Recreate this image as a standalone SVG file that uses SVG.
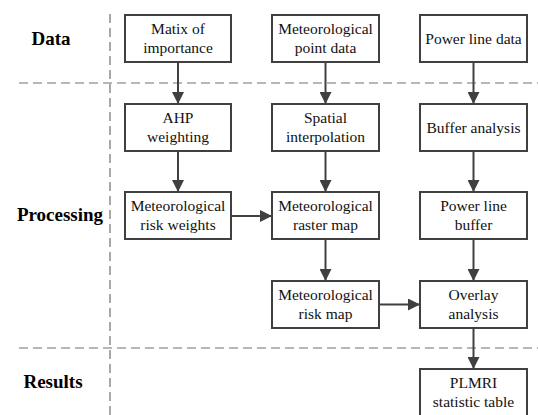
<svg xmlns="http://www.w3.org/2000/svg" width="538" height="415" viewBox="0 0 538 415">
<defs>
<marker id="ah" viewBox="0 0 12 12" refX="12" refY="6" markerWidth="12" markerHeight="12" markerUnits="userSpaceOnUse" orient="auto">
<path d="M0,0 L12,6 L0,12 Z" fill="#404040"/>
</marker>
<style>
.box{fill:#fff;stroke:#404040;stroke-width:2}
.t{font-family:"Liberation Serif","Times New Roman",serif;font-size:15.5px;fill:#111;text-anchor:middle}
.lab{font-family:"Liberation Serif","Times New Roman",serif;font-size:19px;font-weight:bold;fill:#000;text-anchor:middle}
.dash{stroke:#707070;stroke-width:1.2;stroke-dasharray:9,5;fill:none}
.c{stroke:#404040;stroke-width:2;fill:none;marker-end:url(#ah)}
</style>
</defs>
<rect width="538" height="415" fill="#fff"/>
<g id="lanes">
<line class="dash" x1="110" y1="14" x2="110" y2="415"/>
<line class="dash" x1="19" y1="83" x2="538" y2="83"/>
<line class="dash" x1="19" y1="348" x2="538" y2="348"/>
<text class="lab" x="51" y="45">Data</text>
<text class="lab" x="60" y="221">Processing</text>
<text class="lab" x="53" y="388">Results</text>
</g>
<g id="connectors">
<line class="c" x1="178" y1="62" x2="178" y2="104"/>
<line class="c" x1="178" y1="151" x2="178" y2="192"/>
<line class="c" x1="325.5" y1="62" x2="325.5" y2="104"/>
<line class="c" x1="325.5" y1="151" x2="325.5" y2="192"/>
<line class="c" x1="473.5" y1="62" x2="473.5" y2="104"/>
<line class="c" x1="473.5" y1="151" x2="473.5" y2="192"/>
<line class="c" x1="231" y1="216" x2="272" y2="216"/>
<line class="c" x1="325.5" y1="239" x2="325.5" y2="281"/>
<line class="c" x1="473.5" y1="239" x2="473.5" y2="281"/>
<line class="c" x1="379" y1="304.5" x2="420" y2="304.5"/>
<line class="c" x1="473.5" y1="328" x2="473.5" y2="369"/>
</g>
<g id="matrix">
<rect class="box" x="125" y="15" width="106" height="47"/>
<text class="t" x="178" y="34">Matix of</text>
<text class="t" x="178" y="53">importance</text>
</g>
<g id="metpoint">
<rect class="box" x="272" y="15" width="107" height="47"/>
<text class="t" x="325.5" y="34">Meteorological</text>
<text class="t" x="325.5" y="53">point data</text>
</g>
<g id="powerdata">
<rect class="box" x="420" y="15" width="107" height="47"/>
<text class="t" x="473.5" y="44">Power line data</text>
</g>
<g id="ahp">
<rect class="box" x="125" y="104" width="106" height="47"/>
<text class="t" x="178" y="123">AHP</text>
<text class="t" x="178" y="142">weighting</text>
</g>
<g id="spatial">
<rect class="box" x="272" y="104" width="107" height="47"/>
<text class="t" x="325.5" y="123">Spatial</text>
<text class="t" x="325.5" y="142">interpolation</text>
</g>
<g id="buffer">
<rect class="box" x="420" y="104" width="107" height="47"/>
<text class="t" x="473.5" y="133">Buffer analysis</text>
</g>
<g id="weights">
<rect class="box" x="125" y="192" width="106" height="47"/>
<text class="t" x="178" y="211">Meteorological</text>
<text class="t" x="178" y="230">risk weights</text>
</g>
<g id="raster">
<rect class="box" x="272" y="192" width="107" height="47"/>
<text class="t" x="325.5" y="211">Meteorological</text>
<text class="t" x="325.5" y="230">raster map</text>
</g>
<g id="plbuffer">
<rect class="box" x="420" y="192" width="107" height="47"/>
<text class="t" x="473.5" y="211">Power line</text>
<text class="t" x="473.5" y="230">buffer</text>
</g>
<g id="riskmap">
<rect class="box" x="272" y="281" width="107" height="47"/>
<text class="t" x="325.5" y="300">Meteorological</text>
<text class="t" x="325.5" y="319">risk map</text>
</g>
<g id="overlay">
<rect class="box" x="420" y="281" width="107" height="47"/>
<text class="t" x="473.5" y="300">Overlay</text>
<text class="t" x="473.5" y="319">analysis</text>
</g>
<g id="plmri">
<rect class="box" x="420" y="369" width="107" height="50"/>
<text class="t" x="473.5" y="388">PLMRI</text>
<text class="t" x="473.5" y="407">statistic table</text>
</g>
</svg>
